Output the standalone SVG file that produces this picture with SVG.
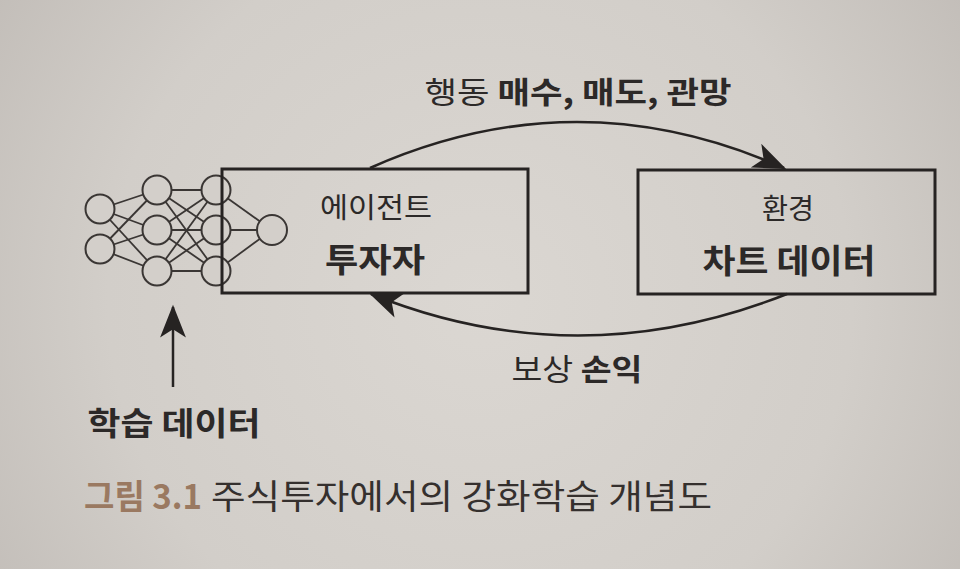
<svg xmlns="http://www.w3.org/2000/svg" width="960" height="569" viewBox="0 0 960 569">
  <defs>
    <radialGradient id="bg" cx="480" cy="300" r="620" gradientUnits="userSpaceOnUse">
      <stop offset="0" stop-color="#dbd7d2"/>
      <stop offset="0.6" stop-color="#d2cec9"/>
      <stop offset="1" stop-color="#bfbab5"/>
    </radialGradient>
    <marker id="head" markerUnits="userSpaceOnUse" markerWidth="40" markerHeight="40" viewBox="-30 -15 34 30" refX="0" refY="0" orient="auto">
      <path d="M 2 0 L -26 -11 L -19 0 L -26 11 Z" fill="#262322"/>
    </marker>
    <style>
      text { font-family: "Noto Sans CJK KR", "Noto Sans", sans-serif; fill: #2c2928; }
      .b { font-weight: bold; }
      .box { fill: none; stroke: #262322; stroke-width: 3; }
      .nc { fill: #d3cfca; stroke: #3a3634; stroke-width: 2; }
      .nl { stroke: #3a3634; stroke-width: 1.8; }
      .arc { fill: none; stroke: #262322; stroke-width: 2.5; marker-end: url(#head); }
      .cap1 { fill: #9a7961; font-weight: bold; }
      .cap2 { fill: #35302e; }
    </style>
  </defs>
  <rect width="960" height="569" fill="url(#bg)"/>

  <g id="neural-network">
    <g class="nl">
      <line x1="100" y1="209" x2="157" y2="190"/>
      <line x1="100" y1="209" x2="157" y2="230"/>
      <line x1="100" y1="209" x2="157" y2="271"/>
      <line x1="100" y1="249" x2="157" y2="190"/>
      <line x1="100" y1="249" x2="157" y2="230"/>
      <line x1="100" y1="249" x2="157" y2="271"/>
      <line x1="157" y1="190" x2="216" y2="190"/>
      <line x1="157" y1="190" x2="216" y2="230"/>
      <line x1="157" y1="190" x2="216" y2="271"/>
      <line x1="157" y1="230" x2="216" y2="190"/>
      <line x1="157" y1="230" x2="216" y2="230"/>
      <line x1="157" y1="230" x2="216" y2="271"/>
      <line x1="157" y1="271" x2="216" y2="190"/>
      <line x1="157" y1="271" x2="216" y2="230"/>
      <line x1="157" y1="271" x2="216" y2="271"/>
      <line x1="216" y1="190" x2="272" y2="230"/>
      <line x1="216" y1="230" x2="272" y2="230"/>
      <line x1="216" y1="271" x2="272" y2="230"/>
    </g>
    <circle class="nc" cx="100" cy="209" r="14.5"/>
    <circle class="nc" cx="100" cy="249" r="14.5"/>
    <circle class="nc" cx="157" cy="190" r="14.5"/>
    <circle class="nc" cx="157" cy="230" r="14.5"/>
    <circle class="nc" cx="157" cy="271" r="14.5"/>
    <circle class="nc" cx="216" cy="190" r="14.5"/>
    <circle class="nc" cx="216" cy="230" r="14.5"/>
    <circle class="nc" cx="216" cy="271" r="14.5"/>
    <circle class="nc" cx="272" cy="230" r="15"/>
  </g>

  <g id="agent">
    <rect class="box" x="222" y="169" width="306" height="124"/>
    <text x="376" y="218" font-size="28" text-anchor="middle" textLength="112" lengthAdjust="spacingAndGlyphs">에이전트</text>
    <text x="375" y="272" font-size="33" text-anchor="middle" class="b" textLength="100" lengthAdjust="spacingAndGlyphs">투자자</text>
  </g>

  <g id="environment">
    <rect class="box" x="638" y="170" width="297" height="124"/>
    <text x="788" y="219" font-size="28" text-anchor="middle" textLength="52" lengthAdjust="spacingAndGlyphs">환경</text>
    <text x="789" y="273" font-size="33" text-anchor="middle" class="b" textLength="173" lengthAdjust="spacingAndGlyphs">차트 데이터</text>
  </g>

  <g id="training-data">
    <text x="174" y="435" font-size="32" text-anchor="middle" class="b" textLength="173" lengthAdjust="spacingAndGlyphs">학습 데이터</text>
  </g>

  <g id="connectors">
    <path id="action" class="arc" d="M 370 168 Q 577 76 784 168"/>
    <path id="reward" class="arc" d="M 787 294 Q 577 377 371 294"/>
    <line id="data-in" x1="173" y1="387" x2="173" y2="307" stroke="#262322" stroke-width="2.5" marker-end="url(#head)"/>
  </g>

  <g id="labels">
    <text x="578" y="103" font-size="30" text-anchor="middle" textLength="307" lengthAdjust="spacingAndGlyphs"><tspan>행동 </tspan><tspan class="b">매수, 매도, 관망</tspan></text>
    <text x="577" y="380" font-size="30" text-anchor="middle" textLength="131" lengthAdjust="spacingAndGlyphs"><tspan>보상 </tspan><tspan class="b">손익</tspan></text>
  </g>

  <g id="caption">
    <text x="84" y="509" font-size="34" class="cap1" textLength="118" lengthAdjust="spacingAndGlyphs">그림 3.1</text>
    <text x="211" y="509" font-size="34" class="cap2" textLength="501" lengthAdjust="spacingAndGlyphs">주식투자에서의 강화학습 개념도</text>
  </g>
</svg>
